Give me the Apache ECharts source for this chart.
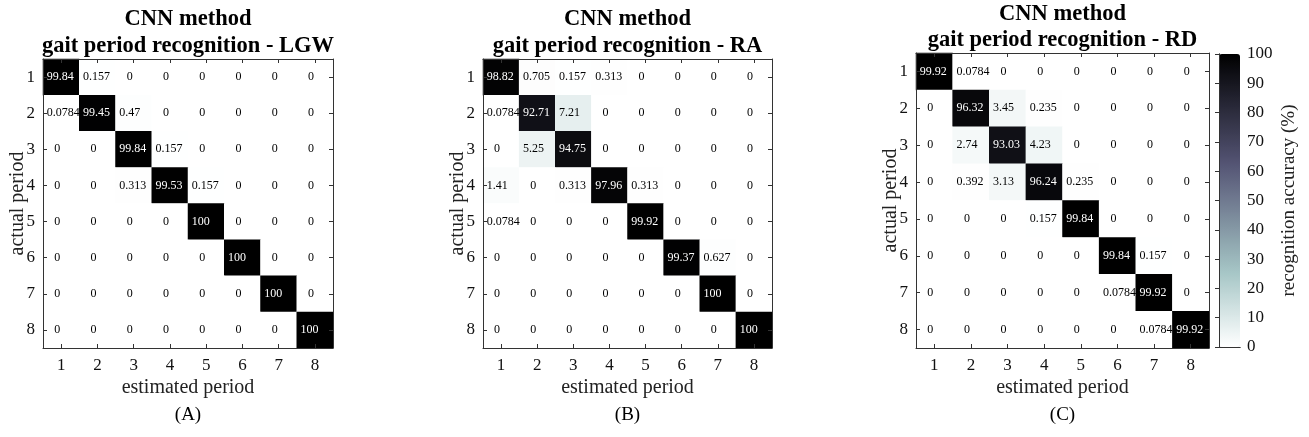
<!DOCTYPE html>
<html>
<head>
<meta charset="utf-8">
<script src="https://cdn.jsdelivr.net/npm/echarts@6/dist/echarts.min.js"></script>
<style>
  html, body { margin: 0; padding: 0; background: #fff; }
  #main { width: 1309px; height: 437px; }
</style>
</head>
<body>
<div id="main"></div>
<script>
// period labels (estimated = columns, actual = rows)
const periods = ['1', '2', '3', '4', '5', '6', '7', '8'];

// recognition accuracy (%) - rows = actual period, cols = estimated period
const lgw = [
  [99.84, 0.157, 0, 0, 0, 0, 0, 0],
  [0.0784, 99.45, 0.47, 0, 0, 0, 0, 0],
  [0, 0, 99.84, 0.157, 0, 0, 0, 0],
  [0, 0, 0.313, 99.53, 0.157, 0, 0, 0],
  [0, 0, 0, 0, 100, 0, 0, 0],
  [0, 0, 0, 0, 0, 100, 0, 0],
  [0, 0, 0, 0, 0, 0, 100, 0],
  [0, 0, 0, 0, 0, 0, 0, 100]
];
const ra = [
  [98.82, 0.705, 0.157, 0.313, 0, 0, 0, 0],
  [0.0784, 92.71, 7.21, 0, 0, 0, 0, 0],
  [0, 5.25, 94.75, 0, 0, 0, 0, 0],
  [1.41, 0, 0.313, 97.96, 0.313, 0, 0, 0],
  [0.0784, 0, 0, 0, 99.92, 0, 0, 0],
  [0, 0, 0, 0, 0, 99.37, 0.627, 0],
  [0, 0, 0, 0, 0, 0, 100, 0],
  [0, 0, 0, 0, 0, 0, 0, 100]
];
const rd = [
  [99.92, 0.0784, 0, 0, 0, 0, 0, 0],
  [0, 96.32, 3.45, 0.235, 0, 0, 0, 0],
  [0, 2.74, 93.03, 4.23, 0, 0, 0, 0],
  [0, 0.392, 3.13, 96.24, 0.235, 0, 0, 0],
  [0, 0, 0, 0.157, 99.84, 0, 0, 0],
  [0, 0, 0, 0, 0, 99.84, 0.157, 0],
  [0, 0, 0, 0, 0, 0.0784, 99.92, 0],
  [0, 0, 0, 0, 0, 0, 0.0784, 99.92]
];

const panelTitles = ['CNN method\ngait period recognition - LGW',
                     'CNN method\ngait period recognition - RA',
                     'CNN method\ngait period recognition - RD'];
const panelTags = ['(A)', '(B)', '(C)'];

// flipped "bone" colormap, 0 -> white, 100 -> black
const boneColors = ['#ffffff', '#d3e3e3', '#a7c7c7', '#8ba1ab', '#707a90',
                    '#545474', '#38384d', '#1c1c27', '#000000'];

const FONT = "'Liberation Serif', 'Times New Roman', serif";
const AXC = '#333';

const myChart = echarts.init(document.getElementById('main'));

function cells(m) {
  const out = [];
  m.forEach((row, r) => {
    row.forEach((v, c) => {
      const lbl = v === 0
        ? { position: 'inside', offset: [-4, 0] }
        : { position: 'insideLeft', distance: 4 };
      lbl.color = v > 50 ? '#fff' : '#000';
      out.push({ value: [c, r, v], label: lbl });
    });
  });
  return out;
}

const grids = [
  { left: 43, top: 59, width: 290, height: 289 },
  { left: 483, top: 59, width: 289, height: 289 },
  { left: 916, top: 53, width: 293, height: 295 },
  { left: 1219, top: 54, width: 21, height: 293 }   // colorbar frame
];

const xAxes = [], yAxes = [], series = [], titles = [];
const mats = [lgw, ra, rd];

mats.forEach((m, i) => {
  const g = grids[i];
  const tick = { show: true, inside: true, alignWithLabel: true, length: 4, lineStyle: { color: AXC } };
  xAxes.push({
    gridIndex: i, type: 'category', data: periods, position: 'bottom', z: 3,
    axisLine: { lineStyle: { color: AXC } }, axisTick: tick,
    axisLabel: { fontFamily: FONT, fontSize: 17, color: '#111', margin: 9 },
    name: 'estimated period', nameLocation: 'middle', nameGap: 30, nameMoveOverlap: false,
    nameTextStyle: { fontFamily: FONT, fontSize: 20, color: '#222' }
  });
  xAxes.push({
    gridIndex: i, type: 'category', data: periods, position: 'top', z: 3,
    axisLine: { lineStyle: { color: AXC } }, axisTick: tick, axisLabel: { show: false }
  });
  yAxes.push({
    gridIndex: i, type: 'category', data: periods, position: 'left', inverse: true, z: 3,
    axisLine: { lineStyle: { color: AXC } }, axisTick: tick,
    axisLabel: { fontFamily: FONT, fontSize: 17, color: '#111', margin: 8 },
    name: 'actual period', nameLocation: 'middle', nameGap: 15, nameMoveOverlap: false,
    nameTextStyle: { fontFamily: FONT, fontSize: 20, color: '#222' }
  });
  yAxes.push({
    gridIndex: i, type: 'category', data: periods, position: 'right', inverse: true, z: 3,
    axisLine: { lineStyle: { color: AXC } }, axisTick: tick, axisLabel: { show: false }
  });
  series.push({
    type: 'heatmap', xAxisIndex: 2 * i, yAxisIndex: 2 * i,
    data: cells(m),
    label: {
      show: true, fontFamily: FONT, fontSize: 12,
      formatter: p => String(p.value[2])
    },
    emphasis: { disabled: true }
  });
  const cx = g.left + g.width / 2;
  titles.push({
    text: panelTitles[i], left: cx, top: i === 2 ? 1 : 6, textAlign: 'center', padding: 0,
    textStyle: { fontFamily: FONT, fontSize: 22.5, fontWeight: 'bold', color: '#000', lineHeight: i === 2 ? 26 : 27 }
  });
  titles.push({
    text: panelTags[i], left: cx, top: 404, textAlign: 'center', padding: 0,
    textStyle: { fontFamily: FONT, fontSize: 19, fontWeight: 'normal', color: '#000', lineHeight: 22 }
  });
});

// colorbar frame + tick axis
xAxes.push({ gridIndex: 3, type: 'value', min: 0, max: 1, position: 'bottom', z: 10,
  axisLine: { show: true, lineStyle: { color: AXC } }, axisTick: { show: false }, axisLabel: { show: false }, splitLine: { show: false } });
xAxes.push({ gridIndex: 3, type: 'value', min: 0, max: 1, position: 'top', z: 10,
  axisLine: { show: true, lineStyle: { color: AXC } }, axisTick: { show: false }, axisLabel: { show: false }, splitLine: { show: false } });
yAxes.push({ gridIndex: 3, type: 'value', min: 0, max: 100, position: 'left', z: 10,
  axisLine: { show: true, lineStyle: { color: AXC } }, axisTick: { show: false }, axisLabel: { show: false }, splitLine: { show: false } });
yAxes.push({ gridIndex: 3, type: 'value', min: 0, max: 100, interval: 10, position: 'right', z: 10,
  axisLine: { show: true, lineStyle: { color: AXC } },
  axisTick: { show: true, inside: true, length: 4, lineStyle: { color: AXC } },
  axisLabel: { fontFamily: FONT, fontSize: 17, color: '#111', margin: 7 },
  splitLine: { show: false },
  name: 'recognition accuracy (%)', nameLocation: 'middle', nameGap: 40, nameRotate: 90, nameMoveOverlap: false,
  nameTextStyle: { fontFamily: FONT, fontSize: 19, color: '#222' }
});

const option = {
  animation: false,
  backgroundColor: '#fff',
  title: titles,
  grid: grids,
  xAxis: xAxes,
  yAxis: yAxes,
  visualMap: {
    type: 'continuous', min: 0, max: 100, seriesIndex: [0, 1, 2],
    show: true, calculable: false, hoverLink: false,
    itemWidth: 21, itemHeight: 293, left: 1219, top: 54, padding: 0,
    inRange: { color: boneColors }
  },
  series: series
};
myChart.setOption(option);
</script>
</body>
</html>
